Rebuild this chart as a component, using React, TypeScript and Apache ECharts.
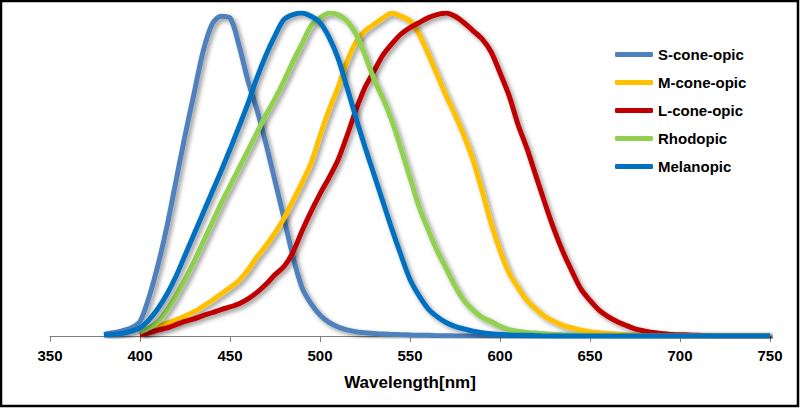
import React, { useEffect, useRef } from "react";
import * as echarts from "echarts";

const wavelengths: number[] = [];
for (let w = 380; w <= 750; w += 5) wavelengths.push(w);

const seriesNames = ["S-cone-opic", "M-cone-opic", "L-cone-opic", "Rhodopic", "Melanopic"];
const seriesColors = ["#4F81BD", "#FFC000", "#C00000", "#92D050", "#0070C0"];

// values from 380 nm in 5 nm steps (null = not drawn)
const sCone = [
  0.005, 0.01, 0.016, 0.025, 0.045, 0.12, 0.22, 0.34, 0.48, 0.62, 0.75, 0.88, 0.965, 0.99, 0.985,
  0.9, 0.79, 0.7, 0.595, 0.48, 0.365, 0.245, 0.15, 0.1, 0.065, 0.042, 0.028, 0.019, 0.013, 0.01,
  0.008, 0.006, 0.005, 0.004, 0.003, 0.002, 0.002, 0.001, 0.001, 0, 0, 0, 0, 0, 0,
  0, 0, 0, 0, 0, 0, 0, 0, 0, 0, 0, 0, 0, 0, 0, 0, 0, 0, 0, 0, 0, 0, 0, 0, 0, 0, 0, 0, 0, 0,
];
const mCone = [
  null, null, null, null, 0.009, 0.02, 0.03, 0.04, 0.05, 0.062, 0.075, 0.092, 0.11, 0.13, 0.15,
  0.172, 0.205, 0.245, 0.28, 0.32, 0.365, 0.42, 0.475, 0.535, 0.62, 0.7, 0.77, 0.85, 0.91, 0.945,
  0.965, 0.985, 1.0, 0.99, 0.975, 0.935, 0.875, 0.81, 0.745, 0.685, 0.62, 0.545, 0.45, 0.35, 0.265,
  0.195, 0.15, 0.11, 0.083, 0.06, 0.045, 0.033, 0.025, 0.018, 0.013, 0.01, 0.008, 0.006, 0.004, 0.003,
  0.002, 0.001, 0, 0, 0, 0, 0, 0, 0, 0, 0, 0, 0, 0, 0,
];
const lCone = [
  null, null, null, null, 0.003, 0.01, 0.018, 0.025, 0.035, 0.045, 0.053, 0.063, 0.072, 0.082, 0.09,
  0.1, 0.115, 0.135, 0.16, 0.19, 0.215, 0.26, 0.325, 0.385, 0.44, 0.49, 0.545, 0.62, 0.7, 0.77,
  0.82, 0.87, 0.905, 0.935, 0.955, 0.97, 0.985, 0.995, 1.0, 0.99, 0.97, 0.945, 0.92, 0.88, 0.815,
  0.745, 0.655, 0.58, 0.495, 0.41, 0.33, 0.26, 0.2, 0.145, 0.11, 0.08, 0.06, 0.045, 0.033, 0.022,
  0.016, 0.011, 0.008, 0.005, 0.004, 0.003, 0.002, 0.001, 0, 0, 0, 0, 0, 0, 0,
];
const rhodopic = [
  null, null, null, null, 0.012, 0.025, 0.045, 0.08, 0.125, 0.175, 0.23, 0.29, 0.35, 0.41, 0.465,
  0.52, 0.575, 0.63, 0.685, 0.735, 0.79, 0.85, 0.905, 0.96, 0.985, 1.0, 0.995, 0.975, 0.935, 0.87,
  0.795, 0.735, 0.665, 0.58, 0.49, 0.4, 0.33, 0.265, 0.21, 0.155, 0.11, 0.08, 0.058, 0.045, 0.03,
  0.02, 0.015, 0.011, 0.009, 0.007, 0.005, 0.004, 0.003, 0.002, 0.001, 0, 0, 0, 0, 0,
  0, 0, 0, 0, 0, 0, 0, 0, 0, 0, 0, 0, 0, 0, 0,
];
const melanopic = [
  0.003, 0.005, 0.008, 0.015, 0.025, 0.05, 0.085, 0.13, 0.185, 0.25, 0.315, 0.38, 0.445, 0.51, 0.578,
  0.648, 0.72, 0.8, 0.87, 0.93, 0.98, 0.995, 1.0, 0.99, 0.97, 0.925, 0.86, 0.77, 0.675, 0.585,
  0.5, 0.415, 0.33, 0.25, 0.175, 0.125, 0.085, 0.06, 0.042, 0.03, 0.022, 0.015, 0.01, 0.007, 0.005,
  0.003, 0.002, 0.002, 0.001, 0, 0, 0, 0, 0, 0, 0, 0, 0, 0, 0,
  0, 0, 0, 0, 0, 0, 0, 0, 0, 0, 0, 0, 0, 0, 0,
];
const seriesValues = [sCone, mCone, lCone, rhodopic, melanopic];

const FONT = "'Liberation Sans', Arial, sans-serif";

export default function App() {
  const ref = useRef<HTMLDivElement>(null);
  useEffect(() => {
    if (!ref.current) return;
    const chart = echarts.init(ref.current, null, { renderer: "svg" });
    chart.setOption({
      animation: false,
      backgroundColor: "#ffffff",
      grid: { left: 50, right: 30, top: 13, bottom: 72 },
      legend: {
        orient: "vertical",
        left: 615,
        top: 47,
        padding: 0,
        itemWidth: 38,
        itemHeight: 5,
        itemGap: 13,
        icon: "roundRect",
        data: seriesNames,
        textStyle: { fontSize: 15, fontWeight: "bold", fontFamily: FONT, color: "#000", lineHeight: 15 },
      },
      xAxis: {
        type: "value",
        min: 350,
        max: 750,
        interval: 50,
        name: "Wavelength[nm]",
        nameLocation: "middle",
        nameGap: 38,
        nameTextStyle: { fontSize: 17, fontWeight: "bold", fontFamily: FONT, color: "#000" },
        axisLine: { onZero: false, lineStyle: { color: "#7f7f7f", width: 1 } },
        axisTick: { show: true, length: 6, lineStyle: { color: "#7f7f7f" } },
        axisLabel: { fontSize: 15, fontWeight: "bold", fontFamily: FONT, color: "#000", margin: 12 },
        splitLine: { show: false },
      },
      yAxis: {
        type: "value",
        min: 0,
        max: 1,
        show: false,
        splitLine: { show: false },
      },
      graphic: [
        {
          type: "rect",
          shape: { x: 1, y: 1, width: 797, height: 405 },
          style: { fill: "none", stroke: "#000", lineWidth: 2.5 },
          silent: true,
          z: 100,
        },
      ],
      series: seriesNames.map((name, i) => ({
        name,
        type: "line",
        showSymbol: false,
        symbol: "none",
        smooth: 0.3,
        connectNulls: false,
        data: wavelengths.map((w, j) => [w, seriesValues[i][j] ?? null]),
        color: seriesColors[i],
        lineStyle: {
          width: 5,
          color: seriesColors[i],
          shadowColor: "rgba(0,0,0,0.4)",
          shadowBlur: 4,
          shadowOffsetX: 2.5,
          shadowOffsetY: 2.5,
        },
        itemStyle: { color: seriesColors[i] },
        z: 2 + i,
      })),
    });
    return () => chart.dispose();
  }, []);
  return (
    <div
      ref={ref}
      style={{ position: "fixed", left: 0, top: 0, width: 800, height: 408, background: "#fff" }}
    />
  );
}
